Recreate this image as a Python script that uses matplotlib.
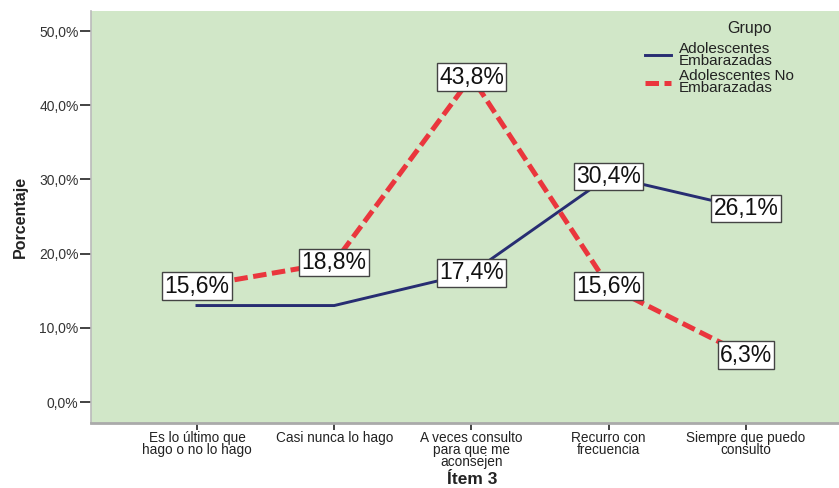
import matplotlib.pyplot as plt

plt.rcParams['font.family'] = ['Liberation Sans', 'DejaVu Sans']

# Datos del ítem 3 por grupo
categorias = ['Es lo último que\nhago o no lo hago',
              'Casi nunca lo hago',
              'A veces consulto\npara que me\naconsejen',
              'Recurro con\nfrecuencia',
              'Siempre que puedo\nconsulto']
embarazadas = [13.0, 13.0, 17.4, 30.4, 26.1]
no_embarazadas = [15.6, 18.8, 43.8, 15.6, 6.3]

# puntos que llevan etiqueta
etiq_emb = [False, False, True, True, True]
etiq_no_emb = [True, True, True, True, True]

grupos = ['Adolescentes\nEmbarazadas', 'Adolescentes No\nEmbarazadas']
azul = '#272d72'
rojo = '#ea363d'

fig = plt.figure(figsize=(8.39, 4.88), dpi=100)
ax = fig.add_axes([0.1085, 0.1332, 0.8915, 0.8443])
ax.set_facecolor('#d1e7c8')

x = list(range(len(categorias)))
ax.plot(x, embarazadas, color=azul, lw=2.1, label=grupos[0], zorder=2)
ax.plot(x, no_embarazadas, color=rojo, lw=3.6, dashes=(2.7, 1.1),
        label=grupos[1], zorder=2)

def fmt(v):
    return f'{v:.1f}%'.replace('.', ',')

caja = dict(boxstyle='square,pad=0.1', fc='white', ec='#444444', lw=1.0)
for serie, mostrar in ((embarazadas, etiq_emb), (no_embarazadas, etiq_no_emb)):
    for i, v in enumerate(serie):
        if mostrar[i]:
            ax.text(i, v, fmt(v), ha='center', va='center', fontsize=16.5,
                    bbox=caja, zorder=5, color='#111111')

ax.set_xlim(-0.772, 4.678)
ax.set_ylim(-2.83, 52.7)
ax.set_yticks([0, 10, 20, 30, 40, 50])
ax.set_yticklabels([fmt(t) for t in [0, 10, 20, 30, 40, 50]], fontsize=10,
                   color='#333333')
ax.set_xticks(x)
ax.set_xticklabels(categorias, fontsize=9.8, linespacing=0.82, color='#222222')
ax.tick_params(axis='y', length=8, width=1.2, color='#222222', pad=1)
ax.tick_params(axis='x', length=5, width=1.2, color='#222222', pad=1)

for s in ('top', 'right'):
    ax.spines[s].set_visible(False)
ax.spines['left'].set_color('#bbbbbb')
ax.spines['left'].set_linewidth(1.2)
ax.spines['bottom'].set_color('#aaaaaa')
ax.spines['bottom'].set_linewidth(2.0)

fig.text(0.024, 0.555, 'Porcentaje', rotation=90, ha='center', va='center',
         fontsize=11.5, fontweight='bold', color='#222222')
fig.text(0.563, 0.002, 'Ítem 3', ha='center', va='bottom', fontsize=12.5,
         fontweight='bold', color='#222222')

# leyenda con su título aparte
fig.text(749 / 839, 1 - 28 / 488, 'Grupo', ha='center', va='center',
         fontsize=11.5, color='#222222')
leg = ax.legend(loc='upper left', bbox_to_anchor=(0.74, 0.925),
                frameon=False, fontsize=11,
                handlelength=1.75, handletextpad=0.5, labelspacing=0.1,
                borderaxespad=0, borderpad=0)
for t in leg.get_texts():
    t.set_linespacing(0.82)
    t.set_color('#222222')

fig.savefig('out.png', dpi=100)
